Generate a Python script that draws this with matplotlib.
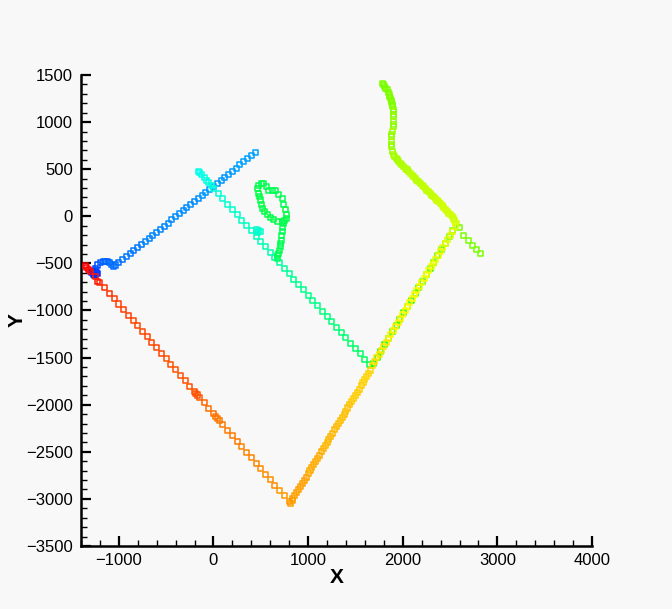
import matplotlib
matplotlib.use("Agg")
import matplotlib.pyplot as plt
from matplotlib.colors import LinearSegmentedColormap, Normalize
from matplotlib.ticker import MultipleLocator, FixedLocator
import numpy as np

plt.rcParams['font.family'] = ['Liberation Sans', 'DejaVu Sans']

# ---- data ----
start_x = [-1285, -1270, -1255, -1240, -1265, -1245, -1230, -1250, -1275, -1260, -1246, -1222, -1193, -1165, -1140, -1115, -1095, -1075, -1059]
start_y = [-600, -615, -605, -595, -585, -620, -610, -575, -590, -630, -552, -517, -493, -485, -482, -485, -493, -508, -528]
start_c = [0.03, 0.03, 0.04, 0.04, 0.05, 0.05, 0.05, 0.06, 0.04, 0.05, 0.07, 0.08, 0.09, 0.09, 0.10, 0.10, 0.10, 0.11, 0.11]

blue_x = [-1035, -1000, -960, -920, -880, -840, -800, -760, -720, -680, -640, -600, -560, -520, -480, -440, -400, -360, -320,
          -280, -240, -200, -160, -120, -80, -40, 0, 40, 80, 120, 160, 200, 240, 280, 320, 360, 400, 440]
blue_y = [-517, -490, -458, -425, -395, -362, -330, -298, -265, -232, -200, -168, -136, -104, -72, -39, -7, 25, 57,
          90, 122, 155, 187, 220, 252, 285, 317, 350, 382, 415, 447, 480, 512, 545, 578, 610, 643, 676]
blue_c = [0.11, 0.11, 0.11, 0.12, 0.12, 0.12, 0.12, 0.12, 0.13, 0.13, 0.13, 0.13, 0.13, 0.13, 0.14, 0.14, 0.14, 0.14, 0.14,
          0.14, 0.14, 0.14, 0.14, 0.15, 0.15, 0.15, 0.15, 0.15, 0.15, 0.15, 0.15, 0.15, 0.16, 0.16, 0.16, 0.16, 0.16, 0.16]

cyan_x = [-160, -148, -125, -100, -75, -50, -25, 0, 50, 100, 150, 200, 250, 300, 350, 400, 450, 500, 550, 600, 650, 700,
          750, 800, 850, 900, 950, 1000, 1050, 1100, 1150, 1200, 1250, 1300, 1350, 1400, 1450, 1500, 1550, 1600, 1650,
          450, 480, 470, 500]
cyan_y = [480, 467, 440, 413, 385, 356, 328, 299, 242, 186, 129, 72, 15, -41, -98, -155, -212, -268, -325, -382, -439, -495,
          -552, -609, -666, -722, -779, -836, -893, -949, -1006, -1063, -1120, -1176, -1233, -1290, -1347, -1403, -1460, -1517, -1574,
          -140, -150, -175, -160]
cyan_c = [0.27, 0.27, 0.27, 0.28, 0.28, 0.28, 0.28, 0.29, 0.29, 0.29, 0.30, 0.30, 0.30, 0.31, 0.31, 0.31, 0.32, 0.32, 0.33, 0.33, 0.34, 0.34,
          0.35, 0.35, 0.36, 0.36, 0.36, 0.37, 0.37, 0.37, 0.38, 0.38, 0.38, 0.39, 0.39, 0.39, 0.40, 0.40, 0.40, 0.41, 0.41,
          0.30, 0.30, 0.30, 0.30]

loop_x = [478, 505, 531, 558, 584, 620, 655, 690, 725, 745, 760, 768, 771, 750, 725, 680, 637, 600, 567, 540, 514, 505, 496, 487, 478, 470,
          742, 733, 725, 720, 715, 710, 708, 700, 690, 680, 673]
loop_y = [332, 345, 350, 315, 279, 279, 279, 235, 191, 130, 67, 20, -21, -45, -57, -50, -39, -12, 14, 50, 85, 130, 173, 210, 244, 290,
          -75, -120, -164, -208, -252, -290, -323, -360, -393, -420, -446]
loop_c = [0.42, 0.42, 0.42, 0.42, 0.42, 0.42, 0.42, 0.42, 0.42, 0.42, 0.43, 0.43, 0.43, 0.43, 0.43, 0.43, 0.43, 0.43, 0.43, 0.43, 0.43, 0.43, 0.43, 0.43, 0.43, 0.43,
          0.42, 0.42, 0.42, 0.42, 0.42, 0.42, 0.42, 0.42, 0.42, 0.42, 0.42]

green_x = [1690, 1730, 1770, 1810, 1850, 1890, 1930, 1970, 2010, 2050, 2090, 2130, 2170, 2210, 2250, 2290, 2330, 2370, 2410, 2450, 2490, 2530]
green_y = [-1560, -1497, -1430, -1362, -1295, -1228, -1160, -1093, -1026, -958, -891, -824, -757, -690, -622, -555, -488, -421, -354, -286, -219, -152]
green_c = [0.52, 0.52, 0.53, 0.53, 0.53, 0.54, 0.54, 0.54, 0.55, 0.55, 0.55, 0.56, 0.56, 0.56, 0.57, 0.57, 0.57, 0.58, 0.58, 0.58, 0.59, 0.59]

top_x = [1781, 1810, 1834, 1855, 1869, 1885, 1894, 1902, 1904, 1902, 1898, 1890, 1880, 1876, 1880, 1904, 1930, 1957, 1992, 2027, 2062,
         2098, 2133, 2168, 2204, 2239, 2274, 2309, 2345, 2380, 2415, 2450, 2485, 2521, 2550, 2573,
         2600, 2643, 2690, 2732, 2775, 2819,
         1795, 1822, 1846, 1863, 1878, 1890, 1899, 1906, 1900, 1885, 1878, 1890, 1915, 1945, 1975, 2010, 2045, 2080, 2115, 2150,
         2186, 2221, 2256, 2292, 2327, 2362, 2398, 2433, 2468, 2503, 2538]
top_y = [1412, 1380, 1341, 1297, 1253, 1208, 1164, 1110, 1057, 1004, 951, 898, 845, 792, 739, 651, 615, 580, 545, 510, 474,
         438, 403, 367, 332, 297, 262, 226, 190, 155, 111, 67, 32, -4, -40, -74,
         -120, -199, -252, -305, -350, -393,
         1396, 1360, 1319, 1275, 1230, 1186, 1137, 1083, 977, 871, 765, 690, 632, 598, 562, 527, 492, 456, 420, 385,
         350, 314, 279, 244, 208, 172, 133, 89, 49, 14, -22]
top_c = [0.63, 0.63, 0.63, 0.64, 0.64, 0.64, 0.64, 0.65, 0.65, 0.65, 0.65, 0.66, 0.66, 0.66, 0.66, 0.67, 0.67, 0.67, 0.67, 0.68, 0.68,
         0.68, 0.68, 0.68, 0.69, 0.69, 0.69, 0.69, 0.69, 0.70, 0.70, 0.70, 0.70, 0.70, 0.70, 0.70,
         0.62, 0.62, 0.62, 0.62, 0.62, 0.62,
         0.61, 0.61, 0.62, 0.62, 0.62, 0.62, 0.63, 0.63, 0.63, 0.64, 0.64, 0.65, 0.66, 0.66, 0.67, 0.67, 0.67, 0.68, 0.68, 0.68,
         0.68, 0.69, 0.69, 0.69, 0.69, 0.70, 0.70, 0.70, 0.70, 0.70, 0.70]

yellow_x = [2555, 2525, 2500, 2475, 2450, 2425, 2400, 2375, 2350, 2325, 2300, 2275, 2250, 2225, 2200, 2175, 2150, 2125, 2100, 2075,
            2050, 2025, 2000, 1975, 1950, 1925, 1900, 1875, 1850, 1825, 1800, 1775, 1750, 1725, 1700, 1680]
yellow_y = [-110, -160, -202, -244, -286, -328, -370, -412, -454, -496, -538, -580, -622, -664, -706, -748, -790, -832, -874, -916,
            -958, -1000, -1042, -1084, -1126, -1168, -1210, -1252, -1294, -1336, -1378, -1420, -1462, -1504, -1546, -1580]
yellow_c = [0.72, 0.72, 0.72, 0.72, 0.73, 0.73, 0.73, 0.73, 0.73, 0.73, 0.74, 0.74, 0.74, 0.74, 0.74, 0.74, 0.75, 0.75, 0.75, 0.75,
            0.75, 0.75, 0.75, 0.76, 0.76, 0.76, 0.76, 0.76, 0.76, 0.77, 0.77, 0.77, 0.77, 0.77, 0.78, 0.78]

orange_x = [1660, 1640, 1620, 1600, 1580, 1560, 1540, 1520, 1500, 1480, 1460, 1440, 1420, 1400, 1380, 1360, 1340, 1320, 1300, 1280,
            1260, 1240, 1220, 1200, 1180, 1160, 1140, 1120, 1100, 1080, 1060, 1040, 1020, 1000, 980, 960, 940, 920, 900, 880, 860, 840, 830, 816]
orange_y = [-1635, -1668, -1701, -1735, -1768, -1801, -1835, -1868, -1901, -1935, -1968, -2001, -2035, -2068, -2101, -2135, -2168, -2201, -2235, -2268,
            -2301, -2335, -2368, -2401, -2435, -2468, -2501, -2535, -2568, -2601, -2635, -2668, -2701, -2735, -2768, -2801, -2835, -2868, -2901, -2935, -2968, -3001, -3018, -3046]
orange_c = [0.79, 0.79, 0.79, 0.79, 0.79, 0.80, 0.80, 0.80, 0.80, 0.80, 0.80, 0.81, 0.81, 0.81, 0.81, 0.81, 0.81, 0.81, 0.82, 0.82,
            0.82, 0.82, 0.82, 0.82, 0.82, 0.82, 0.83, 0.83, 0.83, 0.83, 0.83, 0.83, 0.83, 0.83, 0.84, 0.84, 0.84, 0.84, 0.84, 0.84, 0.84, 0.84, 0.84, 0.84]

red_x = [800, 750, 700, 650, 600, 550, 500, 450, 400, 350, 300, 250, 200, 150, 100, 60, 40, 20, 0, -50, -100, -150, -170, -185, -200,
         -250, -300, -350, -400, -450, -500, -550, -600, -650, -700, -750, -800, -850, -900, -950, -1000, -1050, -1100, -1150,
         -1200, -1228, -1250, -1300, -1320, -1340, -1352]
red_y = [-3027, -2969, -2911, -2853, -2794, -2736, -2678, -2620, -2562, -2503, -2445, -2387, -2329, -2271, -2212, -2165, -2142, -2120, -2096, -2037, -1979, -1921, -1897, -1880, -1863,
         -1804, -1746, -1688, -1630, -1571, -1513, -1455, -1397, -1339, -1280, -1222, -1164, -1106, -1048, -989, -931, -873, -815, -757,
         -698, -694, -640, -582, -560, -540, -524]
red_c = [0.85, 0.85, 0.85, 0.86, 0.86, 0.86, 0.86, 0.87, 0.87, 0.87, 0.87, 0.88, 0.88, 0.88, 0.88, 0.88, 0.88, 0.88, 0.89, 0.89, 0.90, 0.91, 0.92, 0.92, 0.92,
         0.92, 0.92, 0.92, 0.92, 0.92, 0.92, 0.93, 0.93, 0.93, 0.93, 0.93, 0.93, 0.93, 0.94, 0.94, 0.94, 0.94, 0.95, 0.95,
         0.96, 0.98, 0.97, 0.98, 1.0, 1.0, 1.0]

xticks = [-1000, 0, 1000, 2000, 3000, 4000]
yticks = [-3500, -3000, -2500, -2000, -1500, -1000, -500, 0, 500, 1000, 1500]

# ---- plot ----
bg = '#f8f8f8'
cmap = LinearSegmentedColormap.from_list('small_rainbow', ['#0000ff', '#00ffff', '#00ff00', '#ffff00', '#ff0000'])
norm = Normalize(0, 1)

fig = plt.figure(figsize=(6.72, 6.09), dpi=100, facecolor=bg)
ax = fig.add_axes([81 / 672, 63 / 609, 511 / 672, 471 / 609], facecolor=bg)

segments = [(start_x, start_y, start_c), (blue_x, blue_y, blue_c), (cyan_x, cyan_y, cyan_c),
            (loop_x, loop_y, loop_c), (green_x, green_y, green_c), (top_x, top_y, top_c),
            (yellow_x, yellow_y, yellow_c), (orange_x, orange_y, orange_c), (red_x, red_y, red_c)]
for sx, sy, sc in segments:
    ax.scatter(sx, sy, s=13, marker='s', facecolors='none',
               edgecolors=cmap(norm(np.asarray(sc))), linewidths=1.1, clip_on=False, zorder=3)

ax.set_xlim(-1400, 4000)
ax.set_ylim(-3500, 1500)
for s in ['top', 'right']:
    ax.spines[s].set_visible(False)
for s in ['left', 'bottom']:
    ax.spines[s].set_linewidth(1.8)

ax.xaxis.set_major_locator(FixedLocator(xticks))
ax.yaxis.set_major_locator(FixedLocator(yticks))
ax.xaxis.set_minor_locator(MultipleLocator(200))
ax.yaxis.set_minor_locator(MultipleLocator(100))
ax.tick_params(which='major', direction='in', length=7, width=1.6, labelsize=12, color='black')
ax.tick_params(which='minor', direction='in', length=4, width=1.0, color='black')
ax.tick_params(axis='x', which='major', pad=5)
ax.tick_params(axis='y', which='major', pad=6)

ax.set_xlabel('X', fontsize=15, fontweight='bold')
ax.set_ylabel('Y', fontsize=15, fontweight='bold')
ax.xaxis.set_label_coords(0.5, -0.066)
ax.xaxis.label.set_va('center')
ax.yaxis.set_label_coords(-0.126, 0.48)
ax.yaxis.label.set_va('center')

fig.savefig('out.png', dpi=100, facecolor=bg)
